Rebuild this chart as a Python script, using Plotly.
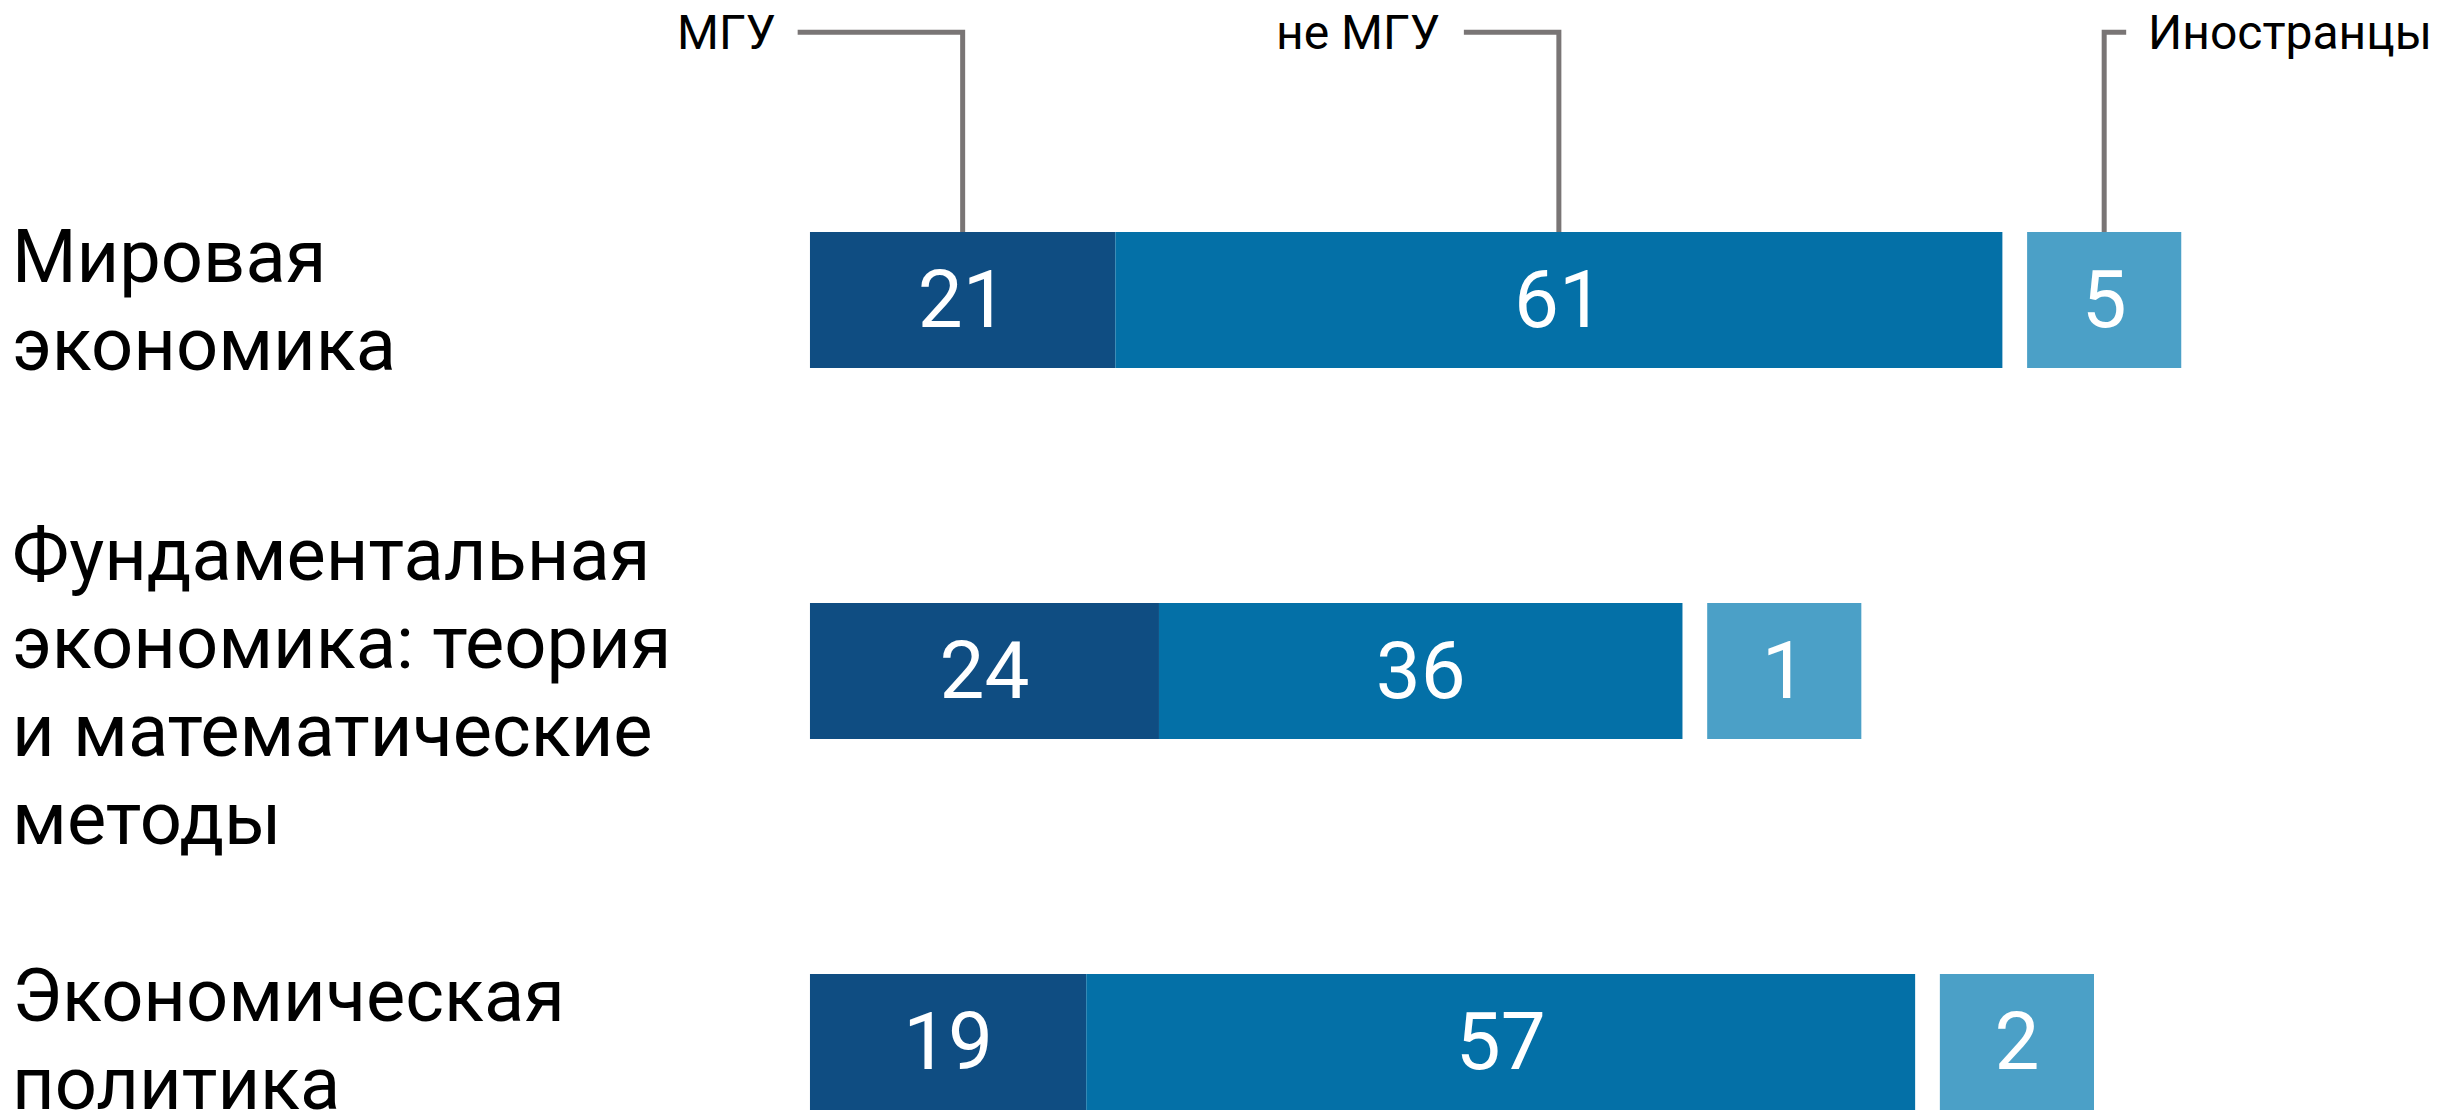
import plotly.graph_objects as go

# ---------------- data ----------------
categories = [
    "Мировая<br>экономика",
    "Фундаментальная<br>экономика: теория<br>и математические<br>методы",
    "Экономическая<br>политика",
]
series_names = ["МГУ", "не МГУ", "Иностранцы"]
msu = [21, 24, 19]
non_msu = [61, 36, 57]
foreign = [5, 1, 2]

# ---------------- style ----------------
COLORS = ["#0f4d82", "#0470a7", "#4ba0c7"]
FONT = "Roboto"
W, H = 2443, 1120
X_RANGE = [-55.7, 112.3]        # data units; 0 sits at the bars' left edge
Y_RANGE = [2.2102, -0.8086]     # reversed: first category on top
BAR_W = 0.3666
GAP = 1.7                       # gap before the "foreign" box (data units)
BOX_W = 10.6                    # fixed width of the "foreign" box (data units)
LEADER_Y = -0.722
LINE_COLOR = "#797575"
LINE_W = 5
LABEL_SIZE = 74
LABEL_LINE_H = 88
LABEL_DY = [0, 15, -3]
VALUE_SIZE = 80
LEGEND_SIZE = 48

rows = list(range(len(categories)))
foreign_base = [m + n + GAP for m, n in zip(msu, non_msu)]

fig = go.Figure()
fig.add_trace(go.Bar(
    y=rows, x=msu, base=[0] * len(rows), orientation="h", width=BAR_W,
    name=series_names[0], marker=dict(color=COLORS[0], line=dict(width=0)),
    text=msu, textposition="inside", insidetextanchor="middle", textangle=0,
    textfont=dict(family=FONT, size=VALUE_SIZE, color="white"),
))
fig.add_trace(go.Bar(
    y=rows, x=non_msu, base=msu, orientation="h", width=BAR_W,
    name=series_names[1], marker=dict(color=COLORS[1], line=dict(width=0)),
    text=non_msu, textposition="inside", insidetextanchor="middle", textangle=0,
    textfont=dict(family=FONT, size=VALUE_SIZE, color="white"),
))
fig.add_trace(go.Bar(
    y=rows, x=[BOX_W] * len(rows), base=foreign_base, orientation="h", width=BAR_W,
    name=series_names[2], marker=dict(color=COLORS[2], line=dict(width=0)),
    text=foreign, textposition="inside", insidetextanchor="middle", textangle=0,
    textfont=dict(family=FONT, size=VALUE_SIZE, color="white"),
))

annotations = []
# category labels (one annotation per line to control leading)
for i, cat in enumerate(categories):
    lines = cat.split("<br>")
    n = len(lines)
    for k, line in enumerate(lines):
        off = (k - (n - 1) / 2) * LABEL_LINE_H + LABEL_DY[i]
        annotations.append(dict(
            x=0, xref="paper", xanchor="left", xshift=10,
            y=i, yref="y", yanchor="middle", yshift=-off,
            text=line, showarrow=False,
            font=dict(family=FONT, size=LABEL_SIZE, color="#000000"),
        ))

# leader lines + series labels, attached to the first row
bar_top = rows[0] - BAR_W / 2
centers = [
    msu[0] / 2,
    msu[0] + non_msu[0] / 2,
    foreign_base[0] + BOX_W / 2,
]
leader_pix = [(-165, 0), (-95, 0), (22, 0)]
shapes = []
for c, (a, b) in zip(centers, leader_pix):
    shapes.append(dict(
        type="path", xref="x", yref="y", xsizemode="pixel", xanchor=c,
        path=f"M {a},{LEADER_Y} L {b},{LEADER_Y} L {b},{bar_top}",
        line=dict(color=LINE_COLOR, width=LINE_W),
        fillcolor="rgba(0,0,0,0)", layer="below",
    ))

annotations.append(dict(x=centers[0], xref="x", xanchor="right", xshift=-185,
                        y=LEADER_Y, yref="y", yanchor="middle", text=series_names[0],
                        showarrow=False, font=dict(family=FONT, size=LEGEND_SIZE, color="#000")))
annotations.append(dict(x=centers[1], xref="x", xanchor="right", xshift=-117,
                        y=LEADER_Y, yref="y", yanchor="middle", text=series_names[1],
                        showarrow=False, font=dict(family=FONT, size=LEGEND_SIZE, color="#000")))
annotations.append(dict(x=centers[2], xref="x", xanchor="left", xshift=42,
                        y=LEADER_Y, yref="y", yanchor="middle", text=series_names[2],
                        showarrow=False, font=dict(family=FONT, size=LEGEND_SIZE, color="#000")))

fig.update_layout(
    width=W, height=H, autosize=False,
    margin=dict(l=0, r=0, t=0, b=0, pad=0),
    paper_bgcolor="white", plot_bgcolor="white",
    barmode="overlay", showlegend=False,
    xaxis=dict(range=X_RANGE, visible=False, fixedrange=True),
    yaxis=dict(range=Y_RANGE, visible=False, fixedrange=True),
    annotations=annotations, shapes=shapes,
    uniformtext=dict(mode=False),
)

fig.write_html(
    "out.html",
    config={"displayModeBar": False, "staticPlot": True},
    post_script="document.body.style.margin='0';document.body.style.overflow='hidden';",
)
